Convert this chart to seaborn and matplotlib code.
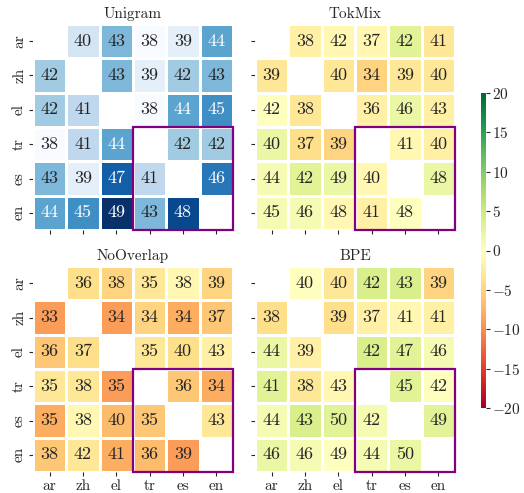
import numpy as np
import pandas as pd
import matplotlib
matplotlib.use("Agg")
import matplotlib.pyplot as plt
from matplotlib.patches import Rectangle
import seaborn as sns

langs = ["ar", "zh", "el", "tr", "es", "en"]
nan = np.nan

unigram = [
    [nan, 40, 43, 38, 39, 44],
    [42, nan, 43, 39, 42, 43],
    [42, 41, nan, 38, 44, 45],
    [38, 41, 44, nan, 42, 42],
    [43, 39, 47, 41, nan, 46],
    [44, 45, 49, 43, 48, nan],
]
tokmix = [
    [nan, 38, 42, 37, 42, 41],
    [39, nan, 40, 34, 39, 40],
    [42, 38, nan, 36, 46, 43],
    [40, 37, 39, nan, 41, 40],
    [44, 42, 49, 40, nan, 48],
    [45, 46, 48, 41, 48, nan],
]
nooverlap = [
    [nan, 36, 38, 35, 38, 39],
    [33, nan, 34, 34, 34, 37],
    [36, 37, nan, 35, 40, 43],
    [35, 38, 35, nan, 36, 34],
    [35, 38, 40, 35, nan, 43],
    [38, 42, 41, 36, 39, nan],
]
bpe = [
    [nan, 40, 40, 42, 43, 39],
    [38, nan, 39, 37, 41, 41],
    [44, 39, nan, 42, 47, 46],
    [41, 38, 43, nan, 45, 42],
    [44, 43, 50, 42, nan, 49],
    [46, 46, 49, 44, 50, nan],
]
titles = ["Unigram", "TokMix", "NoOverlap", "BPE"]
cbar_ticks = [-20, -15, -10, -5, 0, 5, 10, 15, 20]

sns.set_theme(style="ticks")
plt.rcParams["font.family"] = "serif"
plt.rcParams["font.serif"] = ["cmr10", "DejaVu Serif"]
plt.rcParams["mathtext.fontset"] = "cm"
plt.rcParams["axes.formatter.use_mathtext"] = True

fig = plt.figure(figsize=(5.24, 4.93), dpi=100)
W, H = 524, 493

def box(x0, y0, x1, y1):
    return [x0 / W, 1 - y1 / H, (x1 - x0) / W, (y1 - y0) / H]

positions = [
    box(33, 24, 233, 230),
    box(255, 24, 455, 230),
    box(33, 266, 233, 472),
    box(255, 266, 455, 472),
]
cax = fig.add_axes(box(481, 93, 486, 408))

base = pd.DataFrame(unigram, index=langs, columns=langs)
models = [tokmix, nooverlap, bpe]

annot_kw = {"fontsize": 13}

for i, (pos, title) in enumerate(zip(positions, titles)):
    ax = fig.add_axes(pos)
    if i == 0:
        sns.heatmap(base, ax=ax, cmap="Blues", annot=base, fmt=".0f",
                    linewidths=1, linecolor="white", cbar=False,
                    annot_kws=annot_kw)
    else:
        vals = pd.DataFrame(models[i - 1], index=langs, columns=langs)
        diff = vals - base
        sns.heatmap(diff, ax=ax, cmap="RdYlGn", vmin=-20, vmax=20,
                    annot=vals, fmt=".0f", linewidths=1, linecolor="white",
                    cbar=(i == 1), cbar_ax=cax if i == 1 else None,
                    annot_kws=annot_kw)
    ax.set_title(title, fontsize=11, pad=4)
    ax.add_patch(Rectangle((3, 3), 3, 3, fill=False, edgecolor="purple",
                           lw=1.6, clip_on=False, zorder=5))
    ax.tick_params(length=3, width=0.8, labelsize=11, pad=2)
    if i in (0, 2):
        ax.set_yticklabels(langs, rotation=90, va="center")
    else:
        ax.set_yticklabels([])
    if i in (2, 3):
        ax.set_xticklabels(langs, rotation=0)
    else:
        ax.set_xticklabels([])

cax.set_yticks(cbar_ticks)
cax.tick_params(length=3, width=0.8, labelsize=11, pad=1)

fig.savefig("out.png", dpi=100)
